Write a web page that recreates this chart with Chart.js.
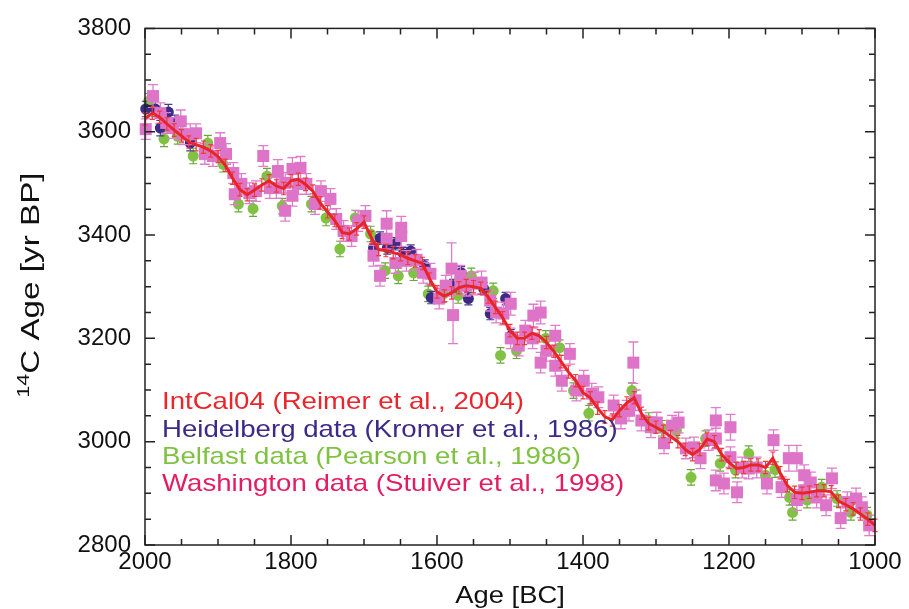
<!DOCTYPE html>
<html>
<head>
<meta charset="utf-8">
<script src="https://cdn.jsdelivr.net/npm/chart.js@4.4.0/dist/chart.umd.min.js"></script>
<style>
html, body { margin: 0; padding: 0; background: #fff; }
</style>
</head>
<body>
<canvas id="c14Chart" width="909" height="609"></canvas>
<script>
// [year BC, 14C age, error]
var intcal04 = [
  [2000,3625,12],[1990,3636,12],[1980,3628,12],[1970,3615,12],[1960,3603,12],[1950,3592,12],
  [1940,3580,12],[1930,3575,12],[1920,3570,12],[1910,3563,12],[1900,3552,12],[1890,3535,12],
  [1880,3510,12],[1870,3488,12],[1860,3478,12],[1850,3487,12],[1840,3497,12],[1830,3505,12],
  [1820,3495,12],[1810,3490,12],[1800,3505,12],[1790,3508,12],[1780,3498,12],[1770,3485,12],
  [1760,3462,12],[1750,3445,12],[1740,3428,12],[1730,3405,12],[1720,3402,12],[1710,3412,12],
  [1700,3425,12],[1690,3395,12],[1680,3372,12],[1670,3370,12],[1660,3366,12],[1650,3362,12],
  [1640,3355,12],[1630,3350,12],[1620,3345,12],[1610,3315,12],[1600,3290,12],[1590,3282,12],
  [1580,3288,12],[1570,3298,12],[1560,3302,12],[1550,3300,12],[1540,3297,12],[1530,3280,12],
  [1520,3260,12],[1510,3240,12],[1500,3215,12],[1490,3200,12],[1480,3200,12],[1470,3210,12],
  [1460,3205,12],[1450,3192,12],[1440,3175,12],[1430,3155,12],[1420,3135,12],[1410,3118,12],
  [1400,3095,12],[1390,3085,12],[1380,3065,12],[1370,3048,12],[1360,3042,12],[1350,3060,12],
  [1340,3075,12],[1330,3085,12],[1320,3055,12],[1310,3035,12],[1300,3028,12],[1290,3020,12],
  [1280,3010,12],[1270,3000,12],[1260,2985,12],[1250,2975,12],[1240,2985,12],[1230,3005,12],
  [1220,3000,12],[1210,2975,12],[1200,2960,12],[1190,2948,12],[1180,2950,12],[1170,2955,12],
  [1160,2955,12],[1150,2950,12],[1140,2968,12],[1130,2940,12],[1120,2915,12],[1110,2902,12],
  [1100,2900,12],[1090,2902,12],[1080,2905,12],[1070,2905,12],[1060,2903,12],[1050,2885,12],
  [1040,2878,12],[1030,2870,12],[1020,2860,12],[1010,2850,12],[1000,2838,12]
];

var heidelberg = [
  [1999,3644,15],[1986,3644,15],[1979,3607,15],[1968,3638,15],[1959,3617,15],[1938,3578,15],
  [1687,3375,12],[1678,3394,12],[1668,3375,12],[1657,3383,12],[1646,3364,12],[1636,3369,12],
  [1617,3340,12],[1608,3279,12],[1578,3302,12],[1567,3327,12],[1557,3277,12],[1536,3296,12],
  [1527,3248,12],[1506,3277,12],[1499,3205,12]
];

var belfast = [
  [1995,3659,15],[1974,3586,15],[1955,3591,15],[1934,3553,15],[1914,3578,15],[1893,3537,15],
  [1872,3460,15],[1852,3451,15],[1833,3514,15],[1812,3456,15],[1772,3460,15],[1752,3433,15],
  [1733,3373,15],[1712,3433,15],[1691,3402,15],[1671,3331,15],[1653,3321,15],[1632,3327,15],
  [1612,3286,15],[1591,3286,15],[1571,3283,15],[1553,3321,15],[1523,3292,15],[1513,3167,15],
  [1491,3176,15],[1451,3200,15],[1432,3182,15],[1413,3099,15],[1392,3055,15],[1333,3099,15],
  [1310,3041,15],[1292,3026,15],[1272,3022,15],[1252,2931,15],[1232,3006,15],[1212,2958,15],
  [1191,2945,15],[1173,2977,15],[1150,2935,15],[1137,2946,15],[1117,2892,15],[1113,2863,15],
  [1093,2887,15],[1073,2912,15],[1052,2890,15],[1033,2863,15],[1011,2858,15]
];

var washington = [
  [1999,3605,20],[1989,3669,22],[1979,3636,20],[1971,3617,20],[1962,3607,20],[1951,3620,22],
  [1948,3595,20],[1938,3595,20],[1930,3597,18],[1918,3557,20],[1907,3553,20],[1897,3578,20],
  [1889,3557,20],[1879,3520,20],[1877,3479,20],[1868,3499,20],[1857,3481,20],[1848,3485,20],
  [1838,3553,20],[1829,3491,20],[1820,3491,20],[1818,3524,22],[1808,3501,20],[1808,3447,20],
  [1798,3528,22],[1798,3476,20],[1790,3499,20],[1787,3530,22],[1779,3499,20],[1767,3460,20],
  [1759,3485,20],[1746,3470,20],[1738,3431,20],[1728,3408,20],[1717,3398,20],[1708,3427,20],
  [1698,3437,20],[1687,3360,20],[1678,3321,20],[1669,3422,25],[1669,3393,20],[1657,3346,20],
  [1649,3414,22],[1649,3398,20],[1642,3350,20],[1628,3352,20],[1619,3327,20],[1609,3325,20],
  [1597,3277,20],[1588,3302,20],[1580,3335,50],[1578,3245,55],[1568,3321,20],[1568,3306,20],
  [1560,3302,20],[1550,3306,22],[1539,3308,22],[1527,3273,20],[1519,3250,20],[1509,3248,22],
  [1499,3267,22],[1499,3200,20],[1488,3186,20],[1479,3215,20],[1469,3200,20],[1468,3244,22],
  [1458,3250,22],[1458,3153,20],[1450,3176,20],[1438,3205,20],[1438,3147,20],[1429,3118,20],
  [1418,3170,20],[1409,3099,20],[1399,3118,20],[1388,3093,20],[1379,3086,20],[1358,3070,20],
  [1348,3045,20],[1340,3060,20],[1337,3060,20],[1331,3153,40],[1328,3080,20],[1320,3041,20],
  [1307,3028,20],[1299,3037,20],[1289,2997,20],[1278,3031,20],[1269,3037,20],[1259,2987,20],
  [1248,2989,20],[1239,2968,20],[1228,3003,20],[1218,3041,25],[1218,3006,20],[1218,2925,20],
  [1207,2919,20],[1198,3028,25],[1198,2970,20],[1189,2902,20],[1182,2950,20],[1173,2948,20],
  [1162,2950,20],[1148,2919,20],[1139,3003,20],[1128,2912,20],[1118,2968,25],[1107,2968,25],
  [1107,2887,20],[1097,2935,20],[1097,2906,20],[1088,2921,20],[1080,2892,20],[1067,2877,20],
  [1059,2929,20],[1047,2852,20],[1038,2883,20],[1026,2890,20],[1018,2873,20],[1008,2838,20]
];

var legendLabels = [
  "IntCal04 (Reimer et al., 2004)",
  "Heidelberg data (Kromer et al., 1986)",
  "Belfast data (Pearson et al., 1986)",
  "Washington data (Stuiver et al., 1998)"
];
var legendColors = ['#e8262b', '#3b2a88', '#7fc242', '#e21d62'];
var xTitle = "Age [BC]";
var yTitleSup = "14";
var yTitle = "C Age [yr BP]";

function toPoints(arr) {
  return arr.map(function (r) { return { x: r[0], y: r[1], e: r[2] }; });
}

// error bars, ticks, box and text
var decor = {
  id: 'decor',
  beforeDatasetDraw: function (chart, args) {
    var ds = chart.data.datasets[args.index];
    if (!ds.capWidth) return;
    var xs = chart.scales.x, ys = chart.scales.y, ctx = chart.ctx;
    var h = ds.capWidth / 2;
    ctx.save();
    ctx.strokeStyle = ds.errColor;
    ctx.lineWidth = ds.errWidth;
    ctx.beginPath();
    ds.data.forEach(function (p) {
      var px = xs.getPixelForValue(p.x);
      var y1 = ys.getPixelForValue(p.y - p.e);
      var y2 = ys.getPixelForValue(p.y + p.e);
      ctx.moveTo(px, y1); ctx.lineTo(px, y2);
      ctx.moveTo(px - h, y1); ctx.lineTo(px + h, y1);
      ctx.moveTo(px - h, y2); ctx.lineTo(px + h, y2);
    });
    ctx.stroke();
    ctx.restore();
  },
  afterDraw: function (chart) {
    var ctx = chart.ctx, a = chart.chartArea;
    var xs = chart.scales.x, ys = chart.scales.y;
    var v, p, len;
    ctx.save();
    ctx.strokeStyle = '#222';
    ctx.lineWidth = 1.5;
    ctx.strokeRect(a.left, a.top, a.right - a.left, a.bottom - a.top);
    ctx.beginPath();
    for (v = 1000; v <= 2000; v += 50) {
      p = xs.getPixelForValue(v);
      len = v % 200 === 0 ? 10 : 6;
      ctx.moveTo(p, a.bottom); ctx.lineTo(p, a.bottom - len);
      ctx.moveTo(p, a.top); ctx.lineTo(p, a.top + len);
    }
    for (v = 2800; v <= 3800; v += 50) {
      p = ys.getPixelForValue(v);
      len = v % 200 === 0 ? 10 : 6;
      ctx.moveTo(a.left, p); ctx.lineTo(a.left + len, p);
      ctx.moveTo(a.right, p); ctx.lineTo(a.right - len, p);
    }
    ctx.stroke();

    // in-plot legend
    ctx.font = '24px "Liberation Sans", Arial, sans-serif';
    ctx.textBaseline = 'alphabetic';
    ctx.textAlign = 'left';
    legendLabels.forEach(function (t, i) {
      ctx.save();
      ctx.translate(a.left + 17, a.top + 381 + i * 27.3);
      ctx.scale(1.15, 1);
      ctx.fillStyle = legendColors[i];
      ctx.fillText(t, 0, 0);
      ctx.restore();
    });

    // x title
    ctx.save();
    ctx.fillStyle = '#111';
    ctx.textAlign = 'center';
    ctx.translate((a.left + a.right) / 2, 603);
    ctx.scale(1.14, 1);
    ctx.fillText(xTitle, 0, 0);
    ctx.restore();

    // y title with superscript
    ctx.save();
    ctx.fillStyle = '#111';
    ctx.translate(39, 285);
    ctx.rotate(-Math.PI / 2);
    ctx.scale(1.33, 1);
    ctx.font = '16px "Liberation Sans", Arial, sans-serif';
    var wSup = ctx.measureText(yTitleSup).width;
    ctx.font = '25px "Liberation Sans", Arial, sans-serif';
    var wMain = ctx.measureText(yTitle).width;
    var x0 = -(wSup + wMain) / 2;
    ctx.font = '16px "Liberation Sans", Arial, sans-serif';
    ctx.fillText(yTitleSup, x0, -10);
    ctx.font = '25px "Liberation Sans", Arial, sans-serif';
    ctx.fillText(yTitle, x0 + wSup, 0);
    ctx.restore();

    ctx.restore();
  }
};

Chart.defaults.font.family = '"Liberation Sans", Arial, sans-serif';
Chart.defaults.color = '#111';

var ctx = document.getElementById('c14Chart');
var chart = new Chart(ctx, {
  type: 'scatter',
  data: {
    datasets: [
      {
        label: legendLabels[0],
        data: toPoints(intcal04),
        showLine: true,
        borderColor: '#e8242b',
        borderWidth: 3,
        pointRadius: 0,
        tension: 0,
        capWidth: 5, errColor: '#ee3b3b', errWidth: 1.2,
        clip: false, order: 0
      },
      {
        label: legendLabels[3],
        data: toPoints(washington),
        pointStyle: 'rect',
        pointRadius: 8.5,
        backgroundColor: '#dd74c7',
        borderWidth: 0,
        capWidth: 10, errColor: '#e07ccb', errWidth: 1.3,
        clip: false, order: 1
      },
      {
        label: legendLabels[1],
        data: toPoints(heidelberg),
        pointStyle: 'circle',
        pointRadius: 5.5,
        backgroundColor: '#3c2a86',
        borderWidth: 0,
        capWidth: 8, errColor: '#4a3a90', errWidth: 1.2,
        clip: false, order: 2
      },
      {
        label: legendLabels[2],
        data: toPoints(belfast),
        pointStyle: 'circle',
        pointRadius: 5.5,
        backgroundColor: '#80c242',
        borderWidth: 0,
        capWidth: 8, errColor: '#6aa83a', errWidth: 1.2,
        clip: false, order: 3
      }
    ]
  },
  options: {
    responsive: false,
    animation: false,
    events: [],
    layout: { padding: { top: 27, right: 34, left: 0, bottom: 0 } },
    plugins: { legend: { display: false }, tooltip: { enabled: false } },
    scales: {
      x: {
        type: 'linear', min: 1000, max: 2000, reverse: true,
        grid: { display: false, drawTicks: false },
        border: { display: false },
        ticks: {
          stepSize: 200, padding: 3, font: { size: 24 },
          callback: function (v) { return String(v); }
        },
        afterFit: function (s) { s.height = 64; }
      },
      y: {
        type: 'linear', min: 2800, max: 3800,
        grid: { display: false, drawTicks: false },
        border: { display: false },
        ticks: {
          stepSize: 200, padding: 14, font: { size: 24 },
          callback: function (v) { return String(v); }
        },
        afterFit: function (s) { s.width = 145; }
      }
    }
  },
  plugins: [decor]
});
</script>
</body>
</html>
